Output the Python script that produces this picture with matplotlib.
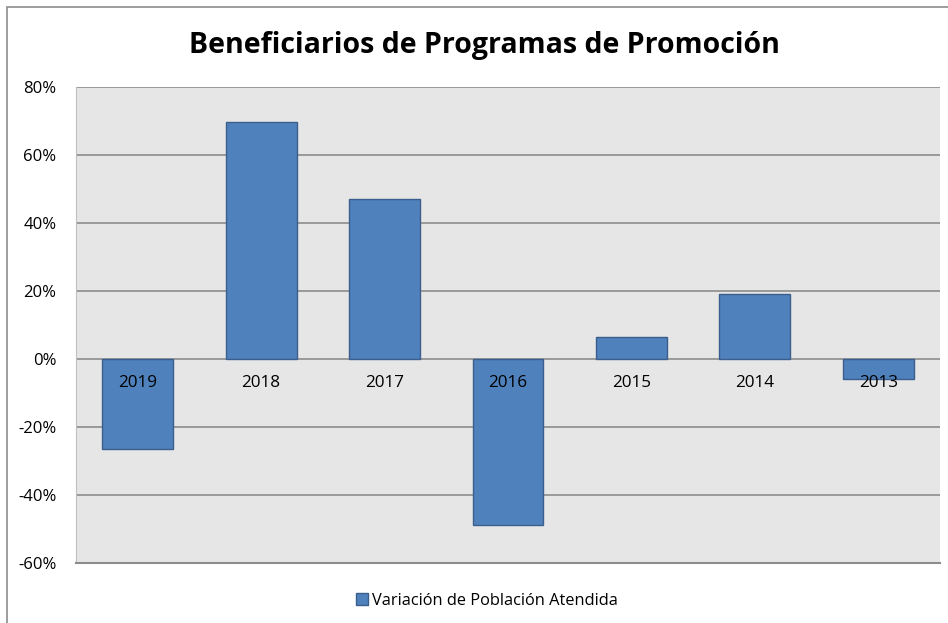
import matplotlib
matplotlib.use("Agg")
import matplotlib.pyplot as plt
from matplotlib.patches import Rectangle
from matplotlib.ticker import FuncFormatter, MultipleLocator

categories = ["2019", "2018", "2017", "2016", "2015", "2014", "2013"]
values = [-26.5, 69.7, 47.1, -48.8, 6.5, 19.1, -5.9]
series_name = "Variación de Población Atendida"
title = "Beneficiarios de Programas de Promoción"

plt.rcParams['font.family'] = ['Open Sans', 'DejaVu Sans']

fig = plt.figure(figsize=(9.48, 6.23), dpi=100)
ax = fig.add_axes([76/948, (623-563)/623, (940-76)/948, (563-87)/623])

fig.patches.append(Rectangle((7/948, -0.05), 1.1, (623-7)/623 + 0.05, transform=fig.transFigure,
                             fill=False, edgecolor="#8c8c8c", linewidth=1.2))

ax.set_facecolor("#E6E6E6")
x = range(len(categories))
bars = ax.bar(x, values, width=0.575, color="#4F81BD", edgecolor="#3B5E8C",
              linewidth=1.0, label=series_name, zorder=3)

ax.set_ylim(-60, 80)
ax.set_xlim(-0.5, len(categories) - 0.5)
ax.yaxis.set_major_locator(MultipleLocator(20))
ax.yaxis.set_major_formatter(FuncFormatter(lambda v, p: f"{int(round(v))}%"))
ax.grid(axis="y", color="#8C8C8C", linewidth=1.2, zorder=1)
ax.tick_params(axis="y", length=0, labelsize=12, pad=14)
ax.set_xticks([])
for s in ["top", "right"]:
    ax.spines[s].set_visible(False)
ax.spines["left"].set_color("#BFBFBF")
ax.spines["bottom"].set_color("#8C8C8C")
ax.spines["bottom"].set_linewidth(1.5)

for i, c in enumerate(categories):
    ax.annotate(c, xy=(i, 0), xytext=(0, -17.5), textcoords="offset points",
                ha="center", va="center", fontsize=12.3, zorder=5)
for lbl in ax.get_yticklabels():
    lbl.set_ha("right")

fig.text(484/948, (623-46)/623, title, ha="center", va="center",
         fontsize=20.5, fontweight="bold")

leg = fig.legend(handles=[bars], labels=[series_name], loc="center",
                 bbox_to_anchor=(487/948, (623-601)/623), frameon=False,
                 fontsize=11.8, handlelength=0.75, handleheight=0.75,
                 handletextpad=0.25)

fig.savefig("out.png", dpi=100)
